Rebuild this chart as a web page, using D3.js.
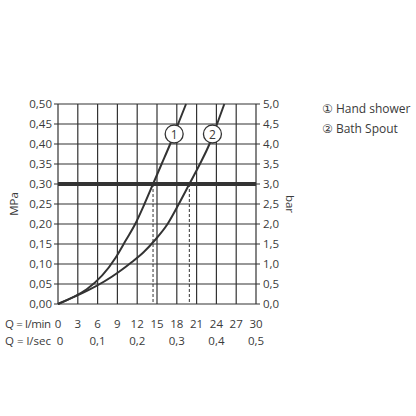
<!DOCTYPE html><html><head><meta charset="utf-8"><script src="https://cdn.jsdelivr.net/npm/d3@7"></script>
<style>body{margin:0;background:#fff}text{font-family:"Open Sans","DejaVu Sans",sans-serif;fill:#3a3a3a}</style></head><body><svg id="c" width="416" height="416"></svg>
<script>
const flowTicks=[0,3,6,9,12,15,18,21,24,27,30];
const secTicks=[[0,"0"],[6,"0,1"],[12,"0,2"],[18,"0,3"],[24,"0,4"],[30,"0,5"]];
const mpaTicks=[0,0.05,0.1,0.15,0.2,0.25,0.3,0.35,0.4,0.45,0.5];
const curve1=[[0,0],[8.7,0.115],[10.3,0.16],[11.7,0.20],[13.1,0.25],[14.4,0.30],[15.7,0.35],[17.0,0.40],[18.2,0.45],[19.4,0.50]];
const curve2=[[0,0],[9.2,0.08],[11.2,0.105],[13,0.13],[14.7,0.16],[16.6,0.20],[18.3,0.25],[19.9,0.30],[21.5,0.35],[22.95,0.40],[24.1,0.45],[25.2,0.50]];
const drops=[14.4,19.9];
const labels=[["1",17.6,0.425],["2",23.4,0.425]];
const legend=["① Hand shower","② Bath Spout"];
const svg=d3.select("#c");
const x=d3.scaleLinear().domain([0,30]).range([58,256]);
const y=d3.scaleLinear().domain([0,0.5]).range([304,104]);
const g=svg.append("g");
g.selectAll(".v").data(flowTicks).join("line").attr("x1",d=>x(d)).attr("x2",d=>x(d)).attr("y1",y(0)).attr("y2",y(0.5)).attr("stroke","#333").attr("stroke-width",1.2);
g.selectAll(".h").data(mpaTicks).join("line").attr("x1",x(0)-4).attr("x2",x(30)+4).attr("y1",d=>y(d)).attr("y2",d=>y(d)).attr("stroke","#333").attr("stroke-width",1.2);
g.append("line").attr("x1",x(0)).attr("x2",x(30)).attr("y1",y(0.3)).attr("y2",y(0.3)).attr("stroke","#333").attr("stroke-width",4);
g.selectAll(".d").data(drops).join("line").attr("x1",d=>x(d)).attr("x2",d=>x(d)).attr("y1",y(0.3)).attr("y2",y(0)).attr("stroke","#333").attr("stroke-width",1).attr("stroke-dasharray","3,2");
const line=d3.line().x(d=>x(d[0])).y(d=>y(d[1])).curve(d3.curveMonotoneX);
[curve1,curve2].forEach(c=>g.append("path").attr("d",line(c)).attr("fill","none").attr("stroke","#333").attr("stroke-width",2));
labels.forEach(l=>{g.append("circle").attr("cx",x(l[1])).attr("cy",y(l[2])).attr("r",9).attr("fill","#fff").attr("stroke","#333").attr("stroke-width",1.3);
g.append("text").attr("x",x(l[1])).attr("y",y(l[2])+4.5).attr("text-anchor","middle").attr("font-size",12).text(l[0]);});
g.selectAll(".yl").data(mpaTicks).join("text").attr("x",x(0)-6).attr("y",d=>y(d)+4).attr("text-anchor","end").attr("font-size",11.5).text(d=>d.toFixed(2).replace(".",","));
g.selectAll(".yr").data(mpaTicks).join("text").attr("x",x(30)+7).attr("y",d=>y(d)+4).attr("font-size",11.5).text(d=>(d*10).toFixed(1).replace(".",","));
g.selectAll(".xl").data(flowTicks).join("text").attr("x",d=>x(d)).attr("y",328).attr("text-anchor","middle").attr("font-size",11.5).text(d=>d);
g.selectAll(".xs").data(secTicks).join("text").attr("x",d=>x(d[0])+(d[0]===0?2:0)).attr("y",345).attr("text-anchor","middle").attr("font-size",11.5).text(d=>d[1]);
g.append("text").attr("x",5).attr("y",328).attr("font-size",11.5).attr("textLength",46).text("Q = l/min");
g.append("text").attr("x",5).attr("y",345).attr("font-size",11.5).attr("textLength",46).text("Q = l/sec");
g.append("text").attr("transform",`translate(18,${y(0.25)}) rotate(-90)`).attr("text-anchor","middle").attr("font-size",11.5).text("MPa");
g.append("text").attr("transform",`translate(286,${y(0.25)}) rotate(90)`).attr("text-anchor","middle").attr("font-size",11.5).text("bar");
legend.forEach((t,i)=>g.append("text").attr("x",322).attr("y",113+i*20).attr("font-size",12).text(t));
</script></body></html>
